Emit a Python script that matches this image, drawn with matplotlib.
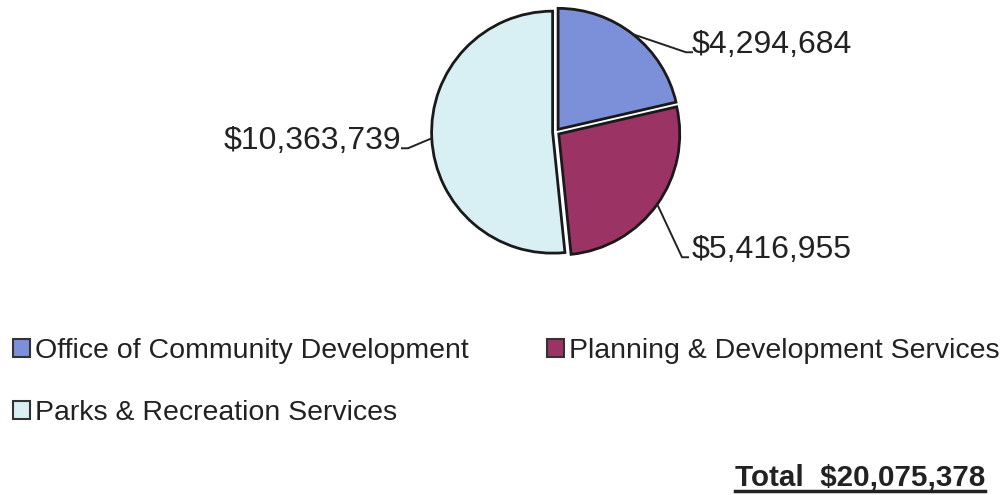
import numpy as np
import matplotlib.pyplot as plt
from matplotlib.patches import Patch

plt.rcParams['font.family'] = ['Liberation Sans', 'DejaVu Sans']

departments = ['Office of Community Development',
               'Planning & Development Services',
               'Parks & Recreation Services']
budgets = [4294684, 5416955, 10363739]
colors = ['#7c90da', '#9b3364', '#d8eff3']
total = 20075378

W, H = 1001, 495
fig = plt.figure(figsize=(W / 100, H / 100), dpi=100)

# pie axes: centre at (556, 132) px, radius 121 px
cx, cy, r = 556, 132, 121
ax = fig.add_axes([(cx - r) / W, (H - cy - r) / H, 2 * r / W, 2 * r / H])
wedges, _ = ax.pie(budgets, colors=colors, startangle=90, counterclock=False,
                   explode=[0.028, 0.028, 0.028], radius=1.0,
                   wedgeprops=dict(edgecolor='#1a1a1a', linewidth=2.0))
ax.set_xlim(-1, 1)
ax.set_ylim(-1, 1)
ax.set_aspect('equal')
ax.axis('off')

# value labels with leader lines
def px(x, y):
    return (x - cx) / r, (cy - y) / r

label_pos = [px(692, 45), px(692, 250), px(401, 141)]
elbow_x = [px(686, 0)[0], px(682, 0)[0], px(408, 0)[0]]
for w, v, (tx, ty), ex in zip(wedges, budgets, label_pos, elbow_x):
    ang = np.deg2rad((w.theta1 + w.theta2) / 2)
    sx, sy = 1.03 * np.cos(ang), 1.03 * np.sin(ang)
    ly = ty - 0.06
    ax.plot([sx, ex, ex + (0.05 if tx > 0 else -0.05)],
            [sy, ly, ly], color='#222222', lw=1.4, clip_on=False)
    ax.text(tx, ty, '${:,}'.format(v), fontsize=23,
            color='#222222', ha='left' if tx > 0 else 'right', va='center')

handles = [Patch(facecolor=c, edgecolor='#333333', linewidth=1.5) for c in colors]
# column-wise fill: Office, Parks | Planning
order = [0, 2, 1]
fig.legend([handles[i] for i in order], [departments[i] for i in order],
           loc='upper left', bbox_to_anchor=(13 / W, 1 - 338 / H), ncol=2,
           frameon=False, fontsize=20.5, handlelength=0.6, handleheight=0.6,
           handletextpad=0.18, columnspacing=2.75, labelspacing=1.25,
           borderpad=0, borderaxespad=0, labelcolor='#222222')

fig.text(985 / W, 1 - 478 / H, 'Total  ${:,}'.format(total), fontsize=21.3,
         fontweight='bold', color='#222222', ha='right', va='center')
fig.add_artist(plt.Line2D([735 / W, 985 / W], [1 - 491 / H] * 2,
                          color='#222222', lw=2.5))

fig.savefig('out.png', dpi=100, facecolor='white')
